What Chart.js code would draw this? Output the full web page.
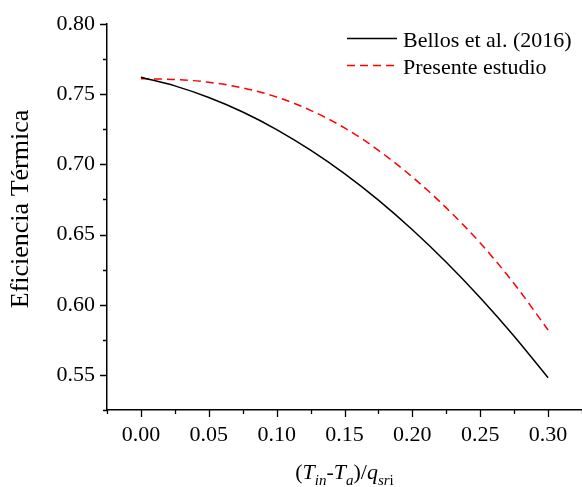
<!DOCTYPE html>
<html>
<head>
<meta charset="utf-8">
<script src="https://cdn.jsdelivr.net/npm/chart.js@4"></script>
<style>
  html, body { margin: 0; padding: 0; background: #fff; }
  #wrap { width: 582px; height: 487px; position: relative; }
</style>
</head>
<body>
<div id="wrap"><canvas id="c"></canvas></div>
<script>
// (Tin - Ta) / q_sri values along the horizontal axis
const heatLoss = [0, 0.025, 0.05, 0.075, 0.10, 0.125, 0.15, 0.175, 0.20, 0.225, 0.25, 0.275, 0.30];
// Thermal efficiency, reference correlation
const bellos2016 = [0.762, 0.7559, 0.7476, 0.7373, 0.7248, 0.7101, 0.6934, 0.6745, 0.6534, 0.6303, 0.6050, 0.5776, 0.548];
// Thermal efficiency, present model
const presenteEstudio = [0.761, 0.7605, 0.7585, 0.7545, 0.748, 0.7385, 0.726, 0.710, 0.691, 0.669, 0.644, 0.615, 0.582];
const seriesNames = ['Bellos et al. (2016)', 'Presente estudio'];
const yAxisTitle = 'Eficiencia Térmica';

const SERIF = '"Liberation Serif", "Times New Roman", serif';
const FS = 22;

function isMajor(v) {
  return Math.abs(Math.round(v * 1000)) % 50 === 0;
}

// Outward major/minor tick marks drawn from the scales' own ticks
const tickMarks = {
  id: 'tickMarks',
  afterDraw(chart) {
    const { ctx } = chart;
    const { x, y } = chart.scales;
    ctx.save();
    ctx.strokeStyle = '#000';
    ctx.lineWidth = 1.3;
    ctx.beginPath();
    x.ticks.forEach((t, i) => {
      const px = Math.round(x.getPixelForTick(i)) + 0.5;
      const len = isMajor(t.value) ? 7 : 4;
      ctx.moveTo(px, x.top);
      ctx.lineTo(px, x.top + len);
    });
    y.ticks.forEach((t, i) => {
      const py = Math.round(y.getPixelForTick(i)) + 0.5;
      const len = isMajor(t.value) ? 7 : 4;
      ctx.moveTo(y.right, py);
      ctx.lineTo(y.right - len, py);
    });
    ctx.stroke();
    ctx.restore();
  }
};

// Axis titles (the horizontal one carries italic symbols with subscripts)
const axisTitles = {
  id: 'axisTitles',
  afterDraw(chart) {
    const { ctx, chartArea } = chart;
    ctx.save();
    ctx.fillStyle = '#000';
    // vertical title
    ctx.font = `26px ${SERIF}`;
    ctx.textAlign = 'center';
    ctx.textBaseline = 'middle';
    ctx.translate(21, (chartArea.top + chartArea.bottom) / 2 - 8);
    ctx.rotate(-Math.PI / 2);
    ctx.fillText(yAxisTitle, 0, 0);
    ctx.restore();

    // horizontal title: (T_in - T_a)/q_sri
    const parts = [
      { t: '(', f: `${FS}px ${SERIF}`, dy: 0 },
      { t: 'T', f: `italic ${FS}px ${SERIF}`, dy: 0 },
      { t: 'in', f: `italic 15px ${SERIF}`, dy: 6 },
      { t: '-', f: `${FS}px ${SERIF}`, dy: 0 },
      { t: 'T', f: `italic ${FS}px ${SERIF}`, dy: 0 },
      { t: 'a', f: `italic 15px ${SERIF}`, dy: 6 },
      { t: ')/', f: `${FS}px ${SERIF}`, dy: 0 },
      { t: 'q', f: `italic ${FS}px ${SERIF}`, dy: 0 },
      { t: 'sr', f: `italic 15px ${SERIF}`, dy: 6 },
      { t: 'i', f: `15px ${SERIF}`, dy: 6 }
    ];
    ctx.save();
    ctx.fillStyle = '#000';
    ctx.textBaseline = 'alphabetic';
    ctx.textAlign = 'left';
    let total = 0;
    parts.forEach(p => { ctx.font = p.f; p.w = ctx.measureText(p.t).width; total += p.w; });
    const xs = chart.scales.x;
    let cx = xs.getPixelForValue(0.15) - total / 2;
    const base = 479;
    parts.forEach(p => {
      ctx.font = p.f;
      ctx.fillText(p.t, cx, base + p.dy);
      cx += p.w;
    });
    ctx.restore();
  }
};

// Legend in the upper right of the plot
const insetLegend = {
  id: 'insetLegend',
  afterDraw(chart) {
    const { ctx } = chart;
    ctx.save();
    ctx.font = `${FS}px ${SERIF}`;
    ctx.textAlign = 'left';
    ctx.textBaseline = 'alphabetic';
    chart.data.datasets.forEach((ds, i) => {
      const rowY = 38 + i * 27;
      ctx.strokeStyle = ds.borderColor;
      ctx.lineWidth = ds.borderWidth;
      ctx.setLineDash(ds.borderDash || []);
      ctx.beginPath();
      ctx.moveTo(347, rowY + 0.5);
      ctx.lineTo(397, rowY + 0.5);
      ctx.stroke();
      ctx.setLineDash([]);
      ctx.fillStyle = '#000';
      ctx.fillText(ds.label, 403, rowY + 8.5);
    });
    ctx.restore();
  }
};

const toPoints = ys => heatLoss.map((x, i) => ({ x, y: ys[i] }));

new Chart(document.getElementById('c'), {
  type: 'line',
  data: {
    datasets: [
      {
        label: seriesNames[0],
        data: toPoints(bellos2016),
        borderColor: '#000000',
        borderWidth: 1.5,
        pointRadius: 0,
        cubicInterpolationMode: 'monotone',
        fill: false
      },
      {
        label: seriesNames[1],
        data: toPoints(presenteEstudio),
        borderColor: '#ff0000',
        borderWidth: 1.5,
        borderDash: [8, 5],
        pointRadius: 0,
        cubicInterpolationMode: 'monotone',
        fill: false
      }
    ]
  },
  options: {
    responsive: true,
    maintainAspectRatio: false,
    animation: false,
    layout: { padding: { top: 24, right: 0, left: 0, bottom: 0 } },
    plugins: { legend: { display: false }, tooltip: { enabled: false } },
    scales: {
      x: {
        type: 'linear',
        min: -0.025,
        max: 0.325,
        afterFit: s => { s.height = 77; s.paddingLeft = 0; s.paddingRight = 0; },
        grid: { display: false, drawTicks: false },
        border: { display: true, color: '#000', width: 1.5 },
        ticks: {
          stepSize: 0.025,
          padding: 12,
          color: '#000',
          autoSkip: false,
          maxRotation: 0,
          font: { family: SERIF, size: FS },
          callback: v => isMajor(v) && v >= 0 && v <= 0.3001 ? v.toFixed(2) : ''
        }
      },
      y: {
        type: 'linear',
        min: 0.525,
        max: 0.80,
        afterFit: s => { s.width = 107; s.paddingTop = 0; s.paddingBottom = 0; },
        grid: { display: false, drawTicks: false },
        border: { display: true, color: '#000', width: 1.5 },
        ticks: {
          stepSize: 0.025,
          padding: 12,
          color: '#000',
          autoSkip: false,
          font: { family: SERIF, size: FS },
          callback: v => isMajor(v) ? v.toFixed(2) : ''
        }
      }
    }
  },
  plugins: [tickMarks, axisTitles, insetLegend]
});
</script>
</body>
</html>
